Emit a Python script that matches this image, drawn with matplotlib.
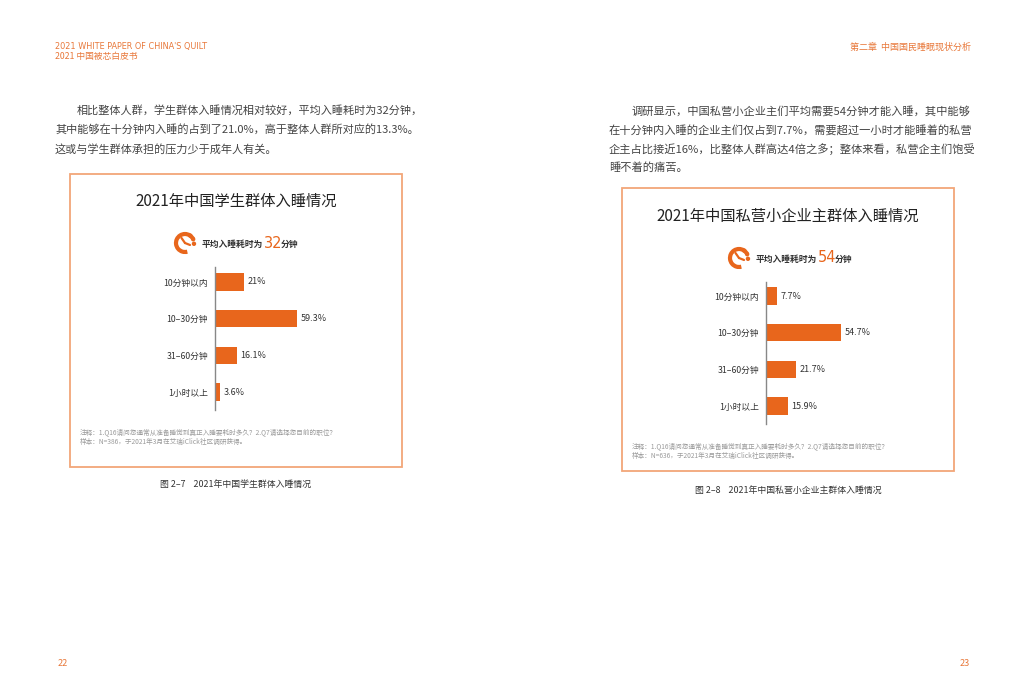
import matplotlib
matplotlib.use("Agg")
import matplotlib.pyplot as plt
from matplotlib.patches import Rectangle, Arc, Circle
import numpy as np

plt.rcParams['font.family'] = ['Noto Sans CJK SC', 'DejaVu Sans']

categories = ["10分钟以内", "10–30分钟", "31–60分钟", "1小时以上"]
students = [21.0, 59.3, 16.1, 3.6]
students_labels = ["21%", "59.3%", "16.1%", "3.6%"]
owners = [7.7, 54.7, 21.7, 15.9]
owners_labels = ["7.7%", "54.7%", "21.7%", "15.9%"]

ORANGE = "#E8661C"
BORDER = "#F2A678"
HEAD = "#E8783A"
TXT = "#444444"

W, H = 1024, 698
fig = plt.figure(figsize=(W / 100, H / 100), dpi=100)
bg = fig.add_axes([0, 0, 1, 1])
bg.set_xlim(0, W)
bg.set_ylim(H, 0)
bg.axis("off")

# headers
bg.text(55, 46, "2021 WHITE PAPER OF CHINA'S QUILT", fontsize=5.9, color=HEAD, va="center",
        family=["DejaVu Sans"])
bg.text(55, 56, "2021 中国被芯白皮书", fontsize=6.3, color=HEAD, va="center")
bg.text(971, 47, "第二章  中国国民睡眠现状分析", fontsize=6.5, color=HEAD, va="center", ha="right")
bg.text(58, 663, "22", fontsize=6.5, color=HEAD, va="center", style="italic")
bg.text(970, 663, "23", fontsize=6.5, color=HEAD, va="center", ha="right", style="italic")

# body text
left_lines = [(77, "相比整体人群，学生群体入睡情况相对较好，平均入睡耗时为32分钟，"),
              (55, "其中能够在十分钟内入睡的占到了21.0%，高于整体人群所对应的13.3%。"),
              (55, "这或与学生群体承担的压力少于成年人有关。")]
for i, (x, s) in enumerate(left_lines):
    bg.text(x, 110 + i * 19.5, s, fontsize=8.0, color=TXT, va="center")
right_lines = [(632, "调研显示，中国私营小企业主们平均需要54分钟才能入睡，其中能够"),
               (609, "在十分钟内入睡的企业主们仅占到7.7%，需要超过一小时才能睡着的私营"),
               (609, "企主占比接近16%，比整体人群高达4倍之多；整体来看，私营企主们饱受"),
               (609, "睡不着的痛苦。")]
for i, (x, s) in enumerate(right_lines):
    bg.text(x, 111 + i * 19, s, fontsize=8.1, color=TXT, va="center")


def clock(cx, cy, r):
    bg.add_patch(Arc((cx, cy), 2 * r, 2 * r, theta1=75, theta2=335, color=ORANGE, lw=3.0))
    for ang in [55, 25, -5]:
        a = np.deg2rad(ang)
        bg.add_patch(Circle((cx + r * np.cos(a), cy - r * np.sin(a)), 1.5, color=ORANGE))
    bg.plot([cx, cx - 3.5], [cy, cy - 5], color=ORANGE, lw=1.6, solid_capstyle="round")
    bg.plot([cx, cx + 5], [cy, cy + 2], color=ORANGE, lw=1.6, solid_capstyle="round")


def panel(box, title, ty, icon_xy, avg, axis_x, axis_top, bar0, values, labels, notes_y, n, caption, cap_xy):
    x0, y0, x1, y1 = box
    bg.add_patch(Rectangle((x0, y0), x1 - x0, y1 - y0, fill=False, ec=BORDER, lw=1.3))
    cxm = (x0 + x1) / 2
    bg.text(cxm, ty, title, fontsize=11, color="#222222", ha="center", va="center", fontweight="medium")
    ix, iy = icon_xy
    clock(ix, iy, 9)
    numx = ix + 79
    bg.text(numx - 1, iy + 1, "平均入睡耗时为", fontsize=6.3, color="#333333", va="center", ha="right",
            fontweight="bold")
    bg.text(numx, iy, avg, fontsize=10.5, color=ORANGE, va="center", family=["DejaVu Sans"])
    bg.text(numx + 17, iy + 1, "分钟", fontsize=6.3, color="#333333", va="center", fontweight="bold")

    spacing = 36.7
    top = axis_top
    bottom = bar0 + 3 * spacing + 18
    px_per = 1.38
    ax = fig.add_axes([axis_x / W, 1 - bottom / H, 100 * px_per / W, (bottom - top) / H])
    y = np.arange(len(values))
    ax.barh(y, values, height=0.47, color=ORANGE)
    ax.set_xlim(0, 100)
    ax.set_ylim((bottom - bar0) / spacing, (top - bar0) / spacing)
    for s in ["top", "right", "bottom"]:
        ax.spines[s].set_visible(False)
    ax.spines["left"].set_color("#888888")
    ax.spines["left"].set_linewidth(1.0)
    ax.set_xticks([])
    ax.set_yticks(y)
    ax.set_yticklabels(categories, fontsize=6.3, color="#333333")
    ax.tick_params(axis="y", length=0, pad=5)
    ax.patch.set_alpha(0)
    for yi, v, lab in zip(y, values, labels):
        ax.text(v + 2.5, yi, lab, fontsize=6.5, color="#333333", va="center")

    bg.text(x0 + 10, notes_y, "注释：1.Q16请问您通常从准备睡觉到真正入睡要耗时多久？2.Q7请选择您目前的职位？",
            fontsize=4.8, color="#9a9a9a", va="center")
    bg.text(x0 + 10, notes_y + 9.5, f"样本：N={n}，于2021年3月在艾瑞iClick社区调研获得。",
            fontsize=4.8, color="#9a9a9a", va="center")
    bg.text(cap_xy[0], cap_xy[1], caption, fontsize=6.4, color="#333333", ha="center", va="center")


panel((70, 174, 402, 467), "2021年中国学生群体入睡情况", 201, (185, 243), "32",
      215, 267, 282, students, students_labels, 432, 386,
      "图 2–7    2021年中国学生群体入睡情况", (236, 484))
panel((622, 188, 954, 471), "2021年中国私营小企业主群体入睡情况", 216, (739, 258), "54",
      766, 282, 296, owners, owners_labels, 446, 636,
      "图 2–8    2021年中国私营小企业主群体入睡情况", (788, 490))

fig.savefig("out.png", dpi=100, facecolor="white")
